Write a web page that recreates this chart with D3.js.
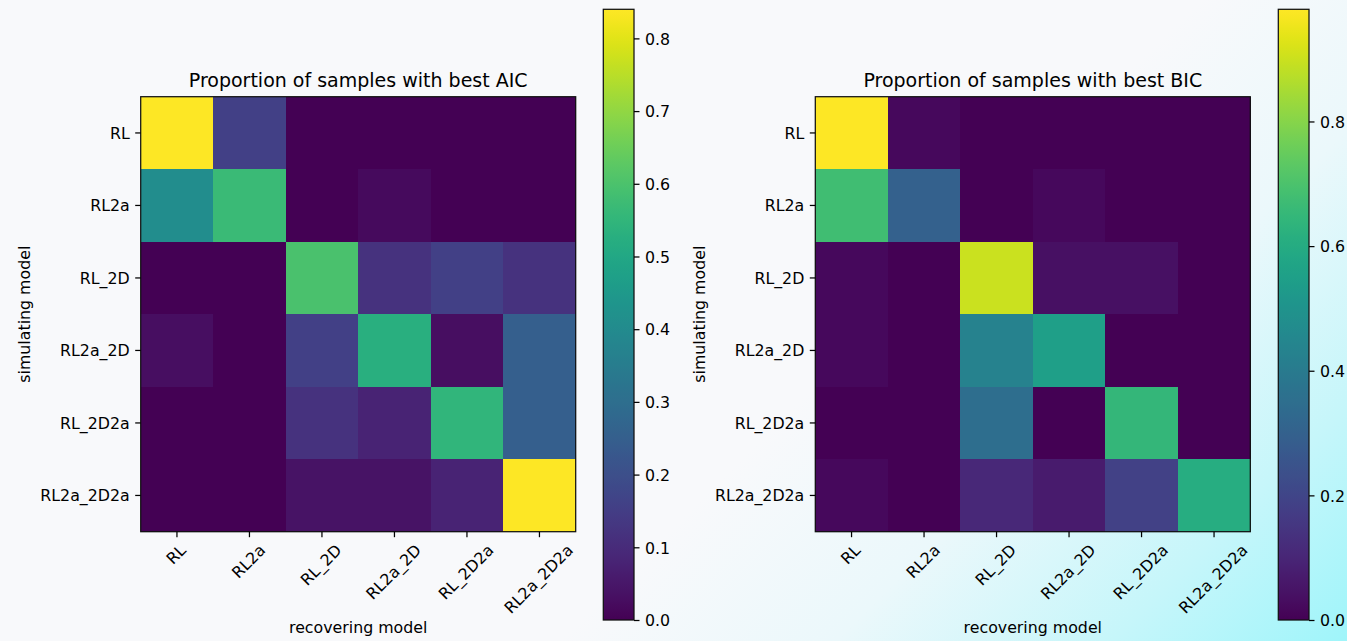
<!DOCTYPE html>
<html>
<head>
<meta charset="utf-8">
<script src="https://cdn.jsdelivr.net/npm/d3@7"></script>
<style>
  html, body { margin: 0; padding: 0; background: #f8f9fb; }
  svg { display: block; }
  text { font-family: "DejaVu Sans", sans-serif; fill: #000; }
</style>
</head>
<body>
<svg id="fig" width="1347" height="641"></svg>
<script>
// Model names: rows are the simulating model, columns the recovering model
const models = ["RL", "RL2a", "RL_2D", "RL2a_2D", "RL_2D2a", "RL2a_2D2a"];

// Proportion of samples where each recovering model had the best AIC
const aicValues = [
  [0.84, 0.16, 0.00, 0.00, 0.00, 0.00],
  [0.41, 0.57, 0.00, 0.02, 0.00, 0.00],
  [0.00, 0.00, 0.60, 0.12, 0.16, 0.12],
  [0.03, 0.00, 0.16, 0.53, 0.03, 0.25],
  [0.00, 0.00, 0.12, 0.08, 0.55, 0.25],
  [0.00, 0.00, 0.04, 0.04, 0.08, 0.84]
];

// Proportion of samples where each recovering model had the best BIC
const bicValues = [
  [0.98, 0.02, 0.00, 0.00, 0.00, 0.00],
  [0.68, 0.30, 0.00, 0.02, 0.00, 0.00],
  [0.02, 0.00, 0.90, 0.04, 0.04, 0.00],
  [0.02, 0.00, 0.43, 0.55, 0.00, 0.00],
  [0.00, 0.00, 0.35, 0.00, 0.65, 0.00],
  [0.02, 0.00, 0.11, 0.07, 0.19, 0.61]
];

const aicTicks = [0.0, 0.1, 0.2, 0.3, 0.4, 0.5, 0.6, 0.7, 0.8];
const bicTicks = [0.0, 0.2, 0.4, 0.6, 0.8];

const titles = ["Proportion of samples with best AIC", "Proportion of samples with best BIC"];
const xLabel = "recovering model";
const yLabel = "simulating model";

// ---- layout ----
const W = 1347, H = 641;
const FS = 15.8;          // tick / axis label size
const TITLE_FS = 19;
const TICK = 5.5, PAD = 5.5;
const plotTop = 96.7, plotSize = 435;
const cbTop = 9.3, cbBottom = 620, cbWidth = 30.7;

const panels = [
  { title: titles[0], values: aicValues, ticks: aicTicks, left: 140.7, cbLeft: 603.3, yLabelX: 30.4 },
  { title: titles[1], values: bicValues, ticks: bicTicks, left: 815.3, cbLeft: 1278.3, yLabelX: 705 }
];

const svg = d3.select("#fig");

// figure background with a soft cyan wash toward the lower-right corner
const defs = svg.append("defs");
const bg = defs.append("linearGradient")
  .attr("id", "bgGrad")
  .attr("gradientUnits", "userSpaceOnUse")
  .attr("x1", 600).attr("y1", 600).attr("x2", 994).attr("y2", 994);
bg.append("stop").attr("offset", 0).attr("stop-color", "#f8f9fb");
bg.append("stop").attr("offset", 0.35).attr("stop-color", "#ebf8fb");
bg.append("stop").attr("offset", 0.7).attr("stop-color", "#c6f6fa");
bg.append("stop").attr("offset", 1).attr("stop-color", "#9ff5fa");
svg.append("rect").attr("width", W).attr("height", H).attr("fill", "url(#bgGrad)");

const LINE_H = 0.99 * FS;

panels.forEach((p, pi) => {
  const vmax = d3.max(p.values.flat());
  const color = d3.scaleSequential(d3.interpolateViridis).domain([0, vmax]);

  const x = d3.scaleBand().domain(models).range([p.left, p.left + plotSize]);
  const y = d3.scaleBand().domain(models).range([plotTop, plotTop + plotSize]);

  const g = svg.append("g");

  // heatmap cells
  const cells = [];
  p.values.forEach((row, ri) => row.forEach((v, ci) => cells.push({ r: models[ri], c: models[ci], v })));
  g.selectAll("rect.cell").data(cells).join("rect")
    .attr("class", "cell")
    .attr("x", d => x(d.c))
    .attr("y", d => y(d.r))
    .attr("width", x.bandwidth() + 0.5)
    .attr("height", y.bandwidth() + 0.5)
    .attr("shape-rendering", "crispEdges")
    .attr("fill", d => color(d.v));

  // frame
  g.append("rect")
    .attr("x", p.left).attr("y", plotTop)
    .attr("width", plotSize).attr("height", plotSize)
    .attr("fill", "none").attr("stroke", "#111").attr("stroke-width", 1.25);

  // y axis
  const yAxis = g.append("g")
    .attr("transform", `translate(${p.left},0)`)
    .call(d3.axisLeft(y).tickSize(TICK).tickPadding(PAD));
  yAxis.select(".domain").remove();
  yAxis.selectAll(".tick line").attr("stroke", "#000").attr("stroke-width", 1.25);
  yAxis.selectAll(".tick text").attr("font-size", FS).attr("dy", "0.36em")
    .attr("font-family", "DejaVu Sans").attr("fill", "#000");

  // x axis with labels rotated 45 degrees, centred under each tick
  const xAxis = g.append("g")
    .attr("transform", `translate(0,${plotTop + plotSize})`)
    .call(d3.axisBottom(x).tickSize(TICK).tickPadding(PAD));
  xAxis.select(".domain").remove();
  xAxis.selectAll(".tick line").attr("stroke", "#000").attr("stroke-width", 1.25);
  xAxis.selectAll(".tick text")
    .attr("font-size", FS).attr("font-family", "DejaVu Sans").attr("fill", "#000")
    .attr("text-anchor", "middle")
    .attr("y", 0).attr("dy", "0.27em")
    .attr("transform", function () {
      const w = this.getComputedTextLength();
      const half = (w + LINE_H) / (2 * Math.SQRT2);
      return `translate(0,${TICK + PAD + half}) rotate(-45)`;
    });

  // title
  g.append("text")
    .attr("x", p.left + plotSize / 2).attr("y", 87)
    .attr("text-anchor", "middle").attr("font-size", TITLE_FS)
    .text(p.title);

  // axis labels
  g.append("text")
    .attr("x", p.left + plotSize / 2).attr("y", 633)
    .attr("text-anchor", "middle").attr("font-size", FS)
    .text(xLabel);
  g.append("text")
    .attr("transform", `translate(${p.yLabelX},${plotTop + plotSize / 2}) rotate(-90)`)
    .attr("text-anchor", "middle").attr("font-size", FS)
    .text(yLabel);

  // colorbar
  const gradId = "cb" + pi;
  const lg = defs.append("linearGradient").attr("id", gradId)
    .attr("x1", 0).attr("y1", 1).attr("x2", 0).attr("y2", 0);
  d3.range(0, 1.0001, 1 / 64).forEach(t => {
    lg.append("stop").attr("offset", t).attr("stop-color", d3.interpolateViridis(t));
  });
  const cy = d3.scaleLinear().domain([0, vmax]).range([cbBottom, cbTop]);
  g.append("rect")
    .attr("x", p.cbLeft).attr("y", cbTop)
    .attr("width", cbWidth).attr("height", cbBottom - cbTop)
    .attr("fill", `url(#${gradId})`)
    .attr("stroke", "#111").attr("stroke-width", 1.25);
  const cAxis = g.append("g")
    .attr("transform", `translate(${p.cbLeft + cbWidth},0)`)
    .call(d3.axisRight(cy).tickValues(p.ticks).tickFormat(d3.format(".1f")).tickSize(TICK).tickPadding(PAD));
  cAxis.select(".domain").remove();
  cAxis.selectAll(".tick line").attr("stroke", "#000").attr("stroke-width", 1.25);
  cAxis.selectAll(".tick text").attr("font-size", FS).attr("dy", "0.36em")
    .attr("font-family", "DejaVu Sans").attr("fill", "#000");
});
</script>
</body>
</html>
